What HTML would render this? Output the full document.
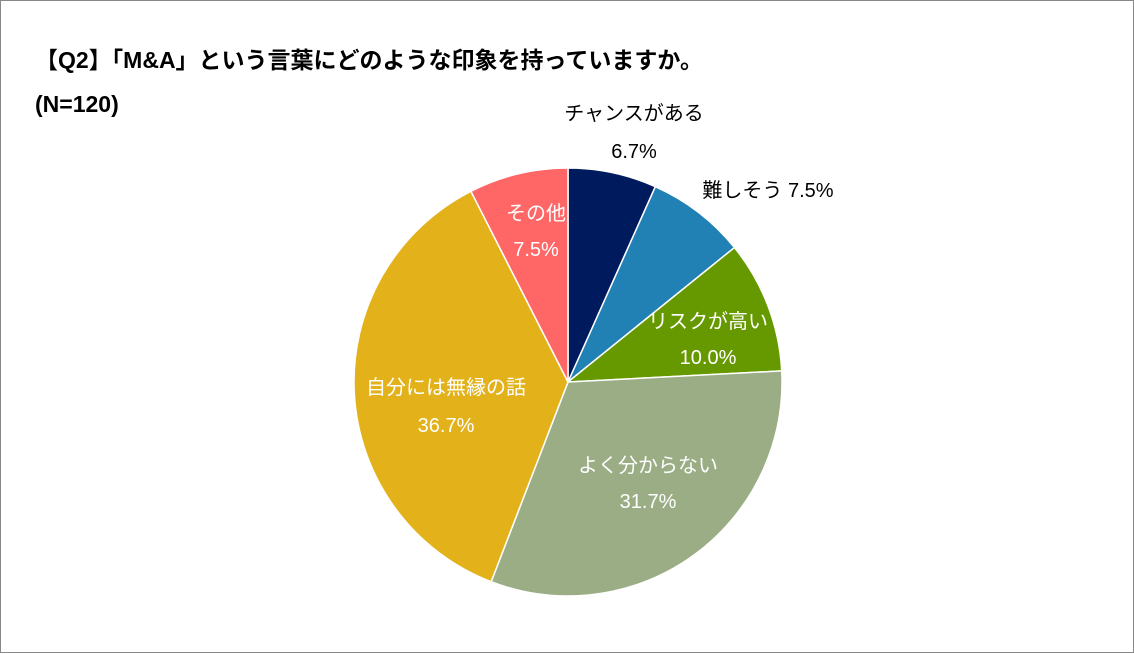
<!DOCTYPE html>
<html><head><meta charset="utf-8">
<style>
body{margin:0;background:#fff;}
#wrap{position:relative;width:1134px;height:653px;box-sizing:border-box;border:1px solid #888;background:#fff;font-family:"Liberation Sans","Noto Sans CJK JP",sans-serif;}
.t{position:absolute;font-weight:bold;font-size:23px;color:#000;white-space:nowrap;}
svg{position:absolute;left:0;top:0;}
</style></head>
<body>
<div id="wrap">
<div class="t" style="left:34px;top:40px;">【Q2】「M&amp;A」という言葉にどのような印象を持っていますか。</div>
<div class="t" style="left:34px;top:90px;">(N=120)</div>
<svg id="chart" width="1134" height="653"></svg>
</div>
<script>
const categories=["チャンスがある","難しそう","リスクが高い","よく分からない","自分には無縁の話","その他"];
const values=[6.7,7.5,10.0,31.7,36.7,7.5];
const colors=["#001a5e","#2180b4","#669900","#9aad85","#e3b11a","#ff6666"];
const labelPos=[[633,112,633,150,"#000",1],[767,189,0,0,"#000",2],[707,320,707,356,"#fff",1],[647,464,647,500,"#fff",1],[445,386,445,424,"#fff",1],[535,212,535,248,"#fff",1]];
const NS="http://www.w3.org/2000/svg";
const svg=document.getElementById('chart');
const cx=567,cy=381,r=214;
const total=values.reduce((a,b)=>a+b,0);
let a0=0;
values.forEach((v,i)=>{
  const a1=a0+v/total*2*Math.PI;
  const x0=cx+r*Math.sin(a0),y0=cy-r*Math.cos(a0),x1=cx+r*Math.sin(a1),y1=cy-r*Math.cos(a1);
  const p=document.createElementNS(NS,'path');
  p.setAttribute('d',`M${cx},${cy}L${x0},${y0}A${r},${r} 0 ${a1-a0>Math.PI?1:0} 1 ${x1},${y1}Z`);
  p.setAttribute('fill',colors[i]);p.setAttribute('stroke','#fff');p.setAttribute('stroke-width','1.5');
  
  
  svg.appendChild(p);
  a0=a1;
});
values.forEach((v,i)=>{
  const L=labelPos[i];
  const lines=L[5]===2?[[categories[i]+" "+v.toFixed(1)+"%",L[0],L[1]]]:[[categories[i],L[0],L[1]],[v.toFixed(1)+"%",L[2],L[3]]];
  lines.forEach(([s,x,y])=>{
    const t=document.createElementNS(NS,'text');
    t.setAttribute('x',x);t.setAttribute('y',y+7);t.setAttribute('text-anchor','middle');
    t.setAttribute('font-size','20');t.setAttribute('fill',L[4]);
    t.setAttribute('font-family','"Liberation Sans","Noto Sans CJK JP",sans-serif');
    t.textContent=s;
    
    
    svg.appendChild(t);
  });
});
</script>
</body></html>
